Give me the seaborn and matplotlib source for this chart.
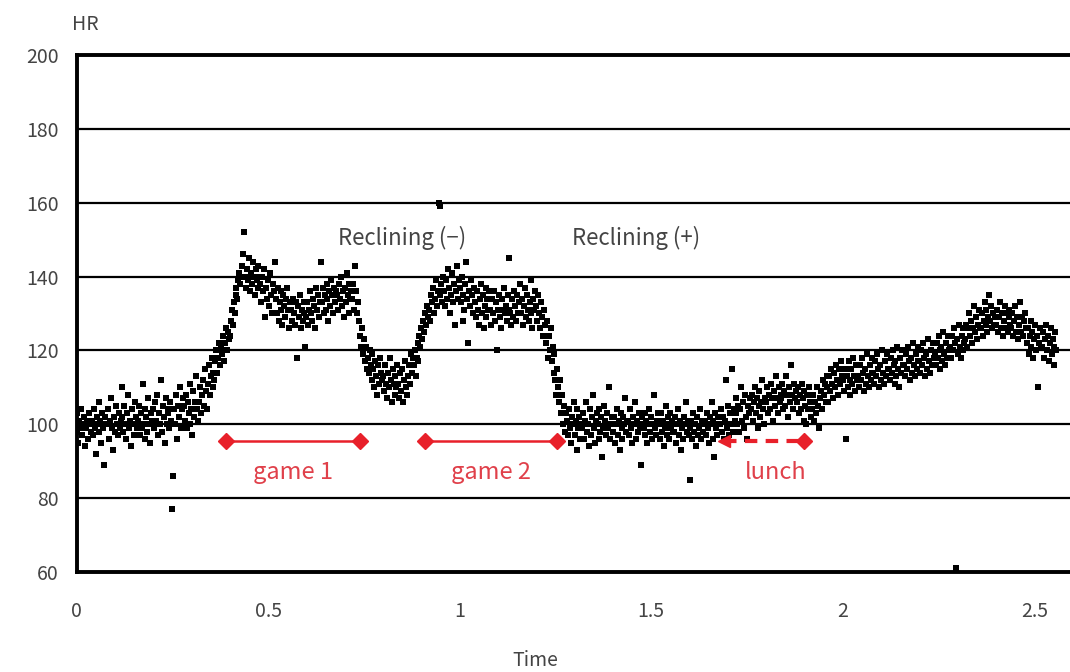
import numpy as np
import pandas as pd
import matplotlib
matplotlib.use("Agg")
import matplotlib.pyplot as plt
import seaborn as sns

# heart rate samples, one every 0.0025 h, 16 per row (each row = 0.04 h)
hr = [
    98, 103, 95, 101, 99, 104, 97, 100, 102, 94, 99, 101, 96, 103, 100, 98,
    101, 97, 104, 99, 92, 102, 100, 106, 98, 101, 95, 103, 99, 89, 102, 100,
    100, 104, 96, 101, 107, 99, 93, 102, 98, 105, 100, 97, 103, 99, 101, 110,
    102, 98, 105, 100, 96, 103, 108, 99, 101, 94, 104, 100, 97, 106, 102, 99,
    101, 105, 97, 103, 99, 111, 100, 96, 104, 102, 98, 107, 100, 95, 103, 101,
    104, 99, 106, 101, 108, 97, 103, 100, 112, 98, 105, 102, 95, 107, 100, 104,
    103, 99, 106, 101, 77, 86, 104, 100, 108, 96, 105, 102, 110, 99, 104, 107,
    105, 101, 108, 99, 106, 103, 111, 100, 104, 97, 109, 102, 106, 113, 104, 101,
    106, 110, 103, 108, 112, 105, 115, 109, 104, 111, 116, 108, 113, 118, 110, 114,
    112, 117, 120, 114, 118, 122, 116, 121, 119, 124, 117, 122, 126, 120, 125, 123,
    124, 128, 131, 127, 133, 130, 135, 137, 134, 139, 141, 138, 140, 143, 146, 152,
    140, 137, 142, 139, 145, 136, 141, 138, 144, 140, 135, 142, 139, 137, 143, 140,
    138, 133, 140, 136, 142, 129, 137, 134, 139, 132, 141, 135, 130, 138, 136, 144,
    134, 130, 137, 128, 133, 131, 136, 127, 135, 132, 129, 134, 137, 131, 126, 133,
    131, 128, 134, 130, 127, 133, 118, 132, 129, 135, 126, 131, 128, 133, 130, 121,
    129, 133, 127, 131, 136, 130, 128, 134, 132, 126, 137, 131, 135, 129, 133, 144,
    133, 137, 130, 135, 131, 138, 134, 128, 136, 132, 139, 135, 130, 137, 133, 136,
    135, 131, 138, 134, 140, 132, 136, 129, 137, 133, 141, 135, 130, 138, 134, 136,
    134, 138, 131, 143, 136, 130, 133, 128, 124, 121, 126, 119, 123, 117, 121, 115,
    118, 114, 120, 116, 112, 119, 115, 110, 117, 113, 108, 116, 111, 118, 114, 112,
    113, 109, 116, 111, 107, 114, 110, 118, 112, 106, 115, 111, 108, 113, 110, 116,
    111, 107, 114, 109, 115, 106, 112, 117, 110, 108, 113, 116, 111, 119, 114, 118,
    116, 120, 113, 118, 122, 117, 124, 121, 126, 123, 128, 125, 130, 127, 132, 129,
    131, 128, 135, 133, 137, 130, 134, 139, 132, 136, 160, 159, 135, 138, 133, 140,
    136, 132, 139, 134, 142, 137, 130, 135, 141, 133, 138, 127, 136, 143, 134, 139,
    137, 133, 140, 128, 135, 131, 138, 144, 134, 122, 136, 132, 139, 135, 130, 137,
    133, 129, 136, 131, 127, 134, 138, 130, 135, 126, 132, 137, 129, 134, 131, 136,
    131, 127, 134, 130, 136, 128, 133, 120, 131, 135, 129, 126, 134, 131, 137, 130,
    132, 128, 135, 131, 145, 130, 127, 134, 129, 136, 132, 128, 135, 130, 133, 138,
    130, 134, 127, 132, 137, 129, 135, 131, 128, 133, 139, 130, 126, 134, 131, 136,
    132, 128, 135, 130, 126, 133, 129, 124, 131, 127, 122, 128, 118, 124, 120, 126,
    117, 121, 114, 119, 112, 108, 115, 110, 106, 112, 103, 108, 100, 105, 98, 103,
    101, 97, 104, 99, 95, 102, 100, 106, 97, 101, 93, 104, 99, 102, 96, 100,
    99, 103, 96, 101, 106, 98, 100, 94, 104, 97, 102, 108, 99, 95, 101, 103,
    100, 96, 104, 98, 102, 91, 99, 105, 101, 97, 103, 99, 110, 96, 100, 102,
    98, 102, 95, 100, 104, 97, 101, 93, 103, 99, 96, 102, 100, 107, 98, 101,
    101, 97, 104, 99, 95, 102, 100, 106, 96, 101, 98, 103, 99, 89, 102, 100,
    99, 103, 97, 101, 95, 100, 104, 98, 102, 96, 100, 108, 99, 97, 101, 103,
    100, 96, 103, 98, 101, 94, 99, 105, 97, 102, 100, 96, 103, 99, 101, 98,
    98, 102, 95, 100, 104, 97, 101, 93, 99, 96, 102, 100, 106, 98, 101, 97,
    99, 85, 101, 96, 103, 98, 100, 94, 102, 97, 99, 104, 96, 101, 98, 100,
    101, 97, 103, 99, 95, 102, 100, 106, 96, 101, 91, 103, 99, 97, 102, 100,
    100, 104, 98, 102, 96, 101, 112, 99, 105, 97, 103, 100, 115, 98, 104, 101,
    103, 107, 100, 105, 98, 104, 110, 101, 106, 99, 108, 102, 96, 105, 103, 107,
    104, 108, 101, 106, 110, 103, 107, 99, 105, 109, 102, 106, 112, 104, 100, 107,
    106, 110, 103, 108, 104, 111, 107, 101, 109, 105, 113, 107, 103, 110, 106, 108,
    107, 111, 104, 109, 105, 113, 108, 102, 110, 106, 116, 108, 104, 111, 107, 109,
    106, 110, 103, 108, 104, 111, 107, 101, 109, 105, 100, 108, 104, 110, 106, 102,
    104, 108, 101, 106, 103, 110, 105, 99, 107, 109, 104, 112, 108, 111, 106, 113,
    110, 106, 113, 109, 115, 111, 107, 114, 110, 116, 112, 108, 115, 111, 117, 113,
    112, 109, 115, 96, 113, 110, 117, 112, 108, 115, 111, 118, 113, 109, 116, 112,
    113, 110, 116, 112, 118, 114, 109, 115, 111, 119, 113, 110, 116, 112, 118, 114,
    114, 111, 117, 113, 119, 115, 110, 116, 112, 120, 114, 111, 117, 113, 119, 115,
    115, 112, 118, 114, 120, 116, 111, 117, 113, 121, 115, 110, 118, 114, 120, 116,
    116, 113, 119, 115, 121, 117, 112, 118, 114, 122, 116, 113, 119, 115, 121, 117,
    117, 114, 120, 116, 122, 118, 113, 119, 115, 123, 117, 114, 120, 116, 122, 118,
    119, 116, 122, 118, 124, 120, 115, 121, 117, 125, 119, 116, 122, 118, 124, 120,
    121, 118, 124, 120, 126, 122, 61, 123, 119, 127, 121, 118, 124, 120, 126, 122,
    123, 127, 121, 126, 130, 124, 128, 122, 126, 132, 125, 129, 123, 127, 131, 126,
    126, 130, 124, 128, 133, 127, 131, 125, 129, 135, 128, 132, 126, 130, 127, 129,
    127, 131, 125, 129, 133, 126, 130, 124, 128, 132, 126, 130, 125, 129, 131, 127,
    126, 130, 124, 128, 132, 125, 129, 123, 127, 133, 125, 129, 124, 128, 130, 126,
    122, 126, 119, 124, 128, 121, 125, 118, 123, 127, 120, 124, 110, 122, 126, 121,
    121, 125, 118, 123, 127, 120, 124, 117, 122, 126, 119, 123, 116, 121, 125, 120,
]
sample_step = 0.0025
time = np.arange(len(hr)) * sample_step

# activity periods (start, end, label)
games = [(0.39, 0.74, "game 1"), (0.91, 1.255, "game 2")]
lunch = (1.69, 1.90, "lunch")
period_hr = 95.5
states = [(0.85, "Reclining (\u2212)"), (1.46, "Reclining (+)")]

df = pd.DataFrame({"Time": time, "HR": hr})

sns.set_style("white")
plt.rcParams["font.family"] = ["Noto Sans CJK JP", "DejaVu Sans"]

fig = plt.figure(figsize=(10.7, 6.72), dpi=100)
ax = fig.add_axes([0.0715, 0.149, 0.9285, 0.769])

sns.scatterplot(data=df, x="Time", y="HR", marker="s", s=14, color="black",
                linewidth=0, ax=ax, zorder=3)

red = "#e8202a"
for start, end, label in games:
    ax.plot([start, end], [period_hr, period_hr], color=red, lw=1.8, zorder=4)
    ax.plot([start, end], [period_hr, period_hr], "D", color=red, ms=8, zorder=5)
    ax.text((start + end) / 2, 87, label, color="#e0404a", fontsize=17,
            ha="center", va="center")
ax.plot([lunch[0], lunch[1]], [period_hr, period_hr], color=red, lw=3,
        ls=(0, (3, 2)), zorder=4)
ax.plot([lunch[0]], [period_hr], "<", color=red, ms=9, zorder=5)
ax.plot([lunch[1]], [period_hr], "D", color=red, ms=8, zorder=5)
ax.text(1.825, 87, lunch[2], color="#e0404a", fontsize=17, ha="center", va="center")

for x, label in states:
    ax.text(x, 150.5, label, color="#444444", fontsize=16, ha="center", va="center")

ax.set_xlim(0, 2.593)
ax.set_ylim(60, 200)
ax.set_xticks([0, 0.5, 1, 1.5, 2, 2.5])
ax.set_xticklabels(["0", "0.5", "1", "1.5", "2", "2.5"])
ax.set_yticks(range(60, 201, 20))
ax.yaxis.grid(True, color="black", lw=1.6)
ax.set_axisbelow(True)
ax.tick_params(axis="x", direction="out", length=9, width=1.2, colors="black",
               labelcolor="#444444", labelsize=14, pad=12)
ax.tick_params(axis="y", direction="out", length=7, width=1.2, colors="black",
               labelcolor="#444444", labelsize=14, pad=6)
ax.set_xlabel("")
ax.set_ylabel("")
for side in ["left", "bottom", "top"]:
    ax.spines[side].set_visible(True)
    ax.spines[side].set_color("black")
    ax.spines[side].set_linewidth(2.8)
ax.spines["right"].set_visible(False)

fig.text(85 / 1070, 1 - 25 / 672, "HR", fontsize=14, color="#444444",
         ha="center", va="center")
fig.text(535 / 1070, 1 - 660 / 672, "Time", fontsize=14, color="#444444",
         ha="center", va="center")

fig.savefig("out.png", dpi=100)
